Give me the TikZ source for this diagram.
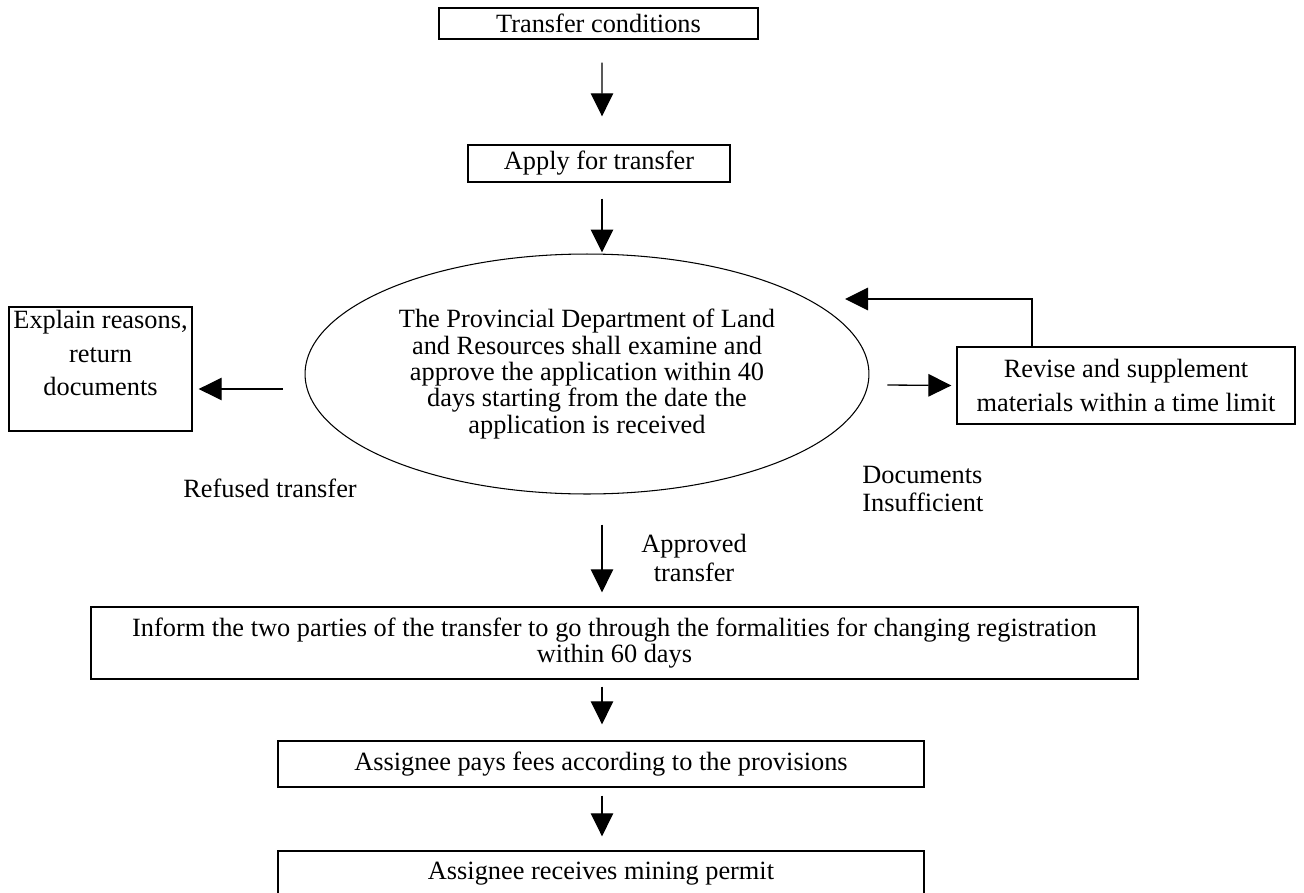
\documentclass[tikz,border=0pt]{standalone}
\usepackage{fontspec}
\setmainfont{Liberation Serif}
\usetikzlibrary{arrows.meta,shapes.geometric,calc}

\begin{document}
\begin{tikzpicture}[x=0.02cm,y=-0.02cm,
    box/.style={draw,line width=0.8pt,inner sep=0pt,align=center,font=\fontsize{15}{18}\selectfont},
    arr/.style={line width=0.75pt,-{Triangle[length=0.46cm,width=0.45cm]}},
    lbl/.style={inner sep=0pt,font=\fontsize{15}{17}\selectfont}]

    \clip (0,0) rectangle (1304,892);

    % steps
    \node[box,minimum width=6.38cm,minimum height=0.62cm] (cond) at (598.5,23.5) {Transfer conditions};
    \node[box,minimum width=5.24cm,minimum height=0.74cm] (apply) at (599,163.5) {Apply for transfer};
    \node[draw,ellipse,line width=0.6pt,inner sep=0pt,minimum width=11.28cm,minimum height=4.8cm,
          align=center,font=\fontsize{15}{15}\selectfont] (exam) at (587,374)
          {The Provincial Department of Land\\and Resources shall examine and\\approve the application within 40\\days starting from the date the\\application is received};
    \node[box,minimum width=3.66cm,minimum height=2.48cm] (explain) at (100.5,369) {};
    \node[lbl,anchor=north,align=center,font=\fontsize{15}{19}\selectfont] (explaintxt) at ($(explain.north)+(0,4)$)
          {Explain reasons,\\return\\documents};
    \node[box,minimum width=6.76cm,minimum height=1.54cm,font=\fontsize{15}{19.5}\selectfont] (revise) at (1126,385.5)
          {Revise and supplement\\materials within a time limit};
    \node[box,minimum width=20.94cm,minimum height=1.44cm,font=\fontsize{15}{15}\selectfont] (inform) at (614.5,643)
          {Inform the two parties of the transfer to go through the formalities for changing registration\\within 60 days};
    \node[box,minimum width=12.92cm,minimum height=0.92cm] (pays) at (601,764) {Assignee pays fees according to the provisions};
    \node[box,minimum width=12.92cm,minimum height=0.92cm] (permit) at (601,874) {Assignee receives mining permit};

    % labels
    \node[lbl] (refused) at (270,488) {Refused transfer};
    \node[lbl,anchor=west,align=left,font=\fontsize{15}{16}\selectfont] (insuff) at (862,489) {Documents\\Insufficient};
    \node[lbl,align=center] (approved) at (694,558) {Approved\\transfer};

    \coordinate (loopend) at ($(exam.center)+(258,-75)$);

    \draw[arr] ($(cond.south)+(3.5,23)$) -- ($(apply.north)+(3,-28)$); % cond -> apply
    \draw[arr] ($(apply.south)+(3,16)$) -- ($(exam.north)+(15,-1)$); % apply -> exam
    \draw[arr] ($(exam.west)+(-22,15)$) -- ($(explain.east)+(6,20)$); % exam -> explain
    \draw[arr] ($(exam.east)+(18,11)$) -- ($(revise.west)+(-5,0)$); % exam -> revise
    \draw[arr] ($(revise.north)+(-94,0)$) |- (loopend); % revise -> exam
    \draw[arr] ($(exam.south)+(15,30)$) -- ($(inform.north)+(-12.5,-14)$); % exam -> inform
    \draw[arr] ($(inform.south)+(-12.5,7)$) -- ($(pays.north)+(1,-16)$); % inform -> pays
    \draw[arr] ($(pays.south)+(1,8)$) -- ($(permit.north)+(1,-14)$); % pays -> permit

\end{tikzpicture}
\end{document}
